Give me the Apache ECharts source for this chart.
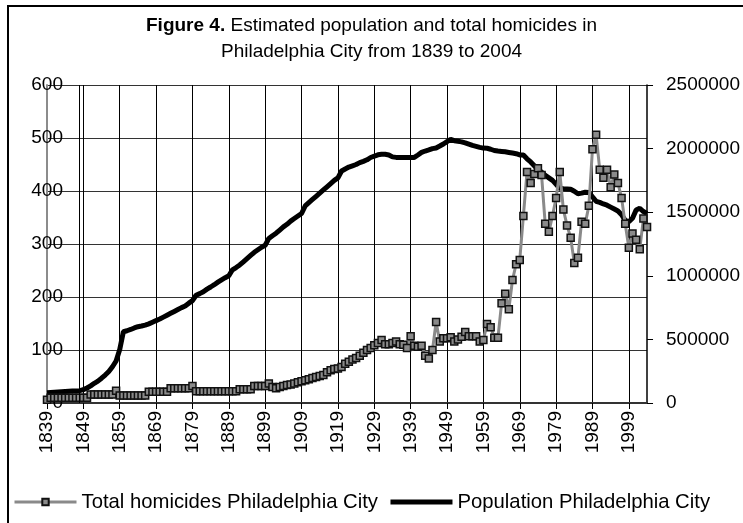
<!DOCTYPE html>
<html>
<head>
<meta charset="utf-8">
<script src="https://cdn.jsdelivr.net/npm/echarts@6/dist/echarts.min.js"></script>
<style>html,body{margin:0;padding:0;background:#fff}#c{width:743px;height:523px}</style>
</head>
<body>
<div id="c"></div>
<script>
const startYear = 1839, endYear = 2004;
const years = [];
for (let y = startYear; y <= endYear; y++) years.push(String(y));

const homicides = [
  6,
  10,10,10,10,10,10,10,10,10,10,
  10,16,16,16,16,16,16,16,23,14,
  14,14,14,14,14,14,14,21,21,21,
  21,21,21,28,28,28,28,28,28,32,
  22,22,22,22,22,22,22,22,22,22,
  22,22,26,26,26,26,32,32,32,32,
  37,30,28,30,32,34,35,37,39,41,
  43,45,47,49,51,53,58,62,64,65,
  68,74,78,82,85,89,95,100,104,109,
  113,119,111,111,113,116,111,110,104,126,
  108,106,108,89,84,100,153,116,122,122,
  124,116,120,125,134,126,126,126,116,119,
  149,143,123,123,188,206,177,232,262,270,
  353,436,415,432,443,430,338,323,353,387,
  436,365,335,312,264,274,342,338,372,479,
  506,440,425,440,407,431,415,387,338,293,
  320,308,290,348,332
];

const population = [
  80000,
  82000,84000,86000,88000,90000,92000,94000,95000,97000,105000,
  118000,135000,155000,172000,195000,220000,248000,285000,330000,420000,
  560000,568000,578000,590000,600000,605000,612000,622000,635000,648000,
  660000,675000,690000,705000,720000,735000,750000,763000,785000,805000,
  847000,860000,875000,895000,912000,930000,950000,968000,985000,1000000,
  1047000,1065000,1085000,1110000,1135000,1160000,1185000,1205000,1225000,1240000,
  1294000,1315000,1335000,1360000,1385000,1405000,1430000,1450000,1470000,1490000,
  1549000,1575000,1600000,1625000,1650000,1675000,1700000,1725000,1750000,1770000,
  1824000,1840000,1855000,1865000,1875000,1890000,1900000,1912000,1930000,1940000,
  1951000,1955000,1955000,1950000,1935000,1931000,1931000,1931000,1931000,1931000,
  1931000,1950000,1970000,1981000,1990000,2000000,2005000,2020000,2036000,2055000,
  2072000,2062000,2058000,2053000,2045000,2035000,2025000,2018000,2010000,2004000,
  2003000,1995000,1985000,1981000,1978000,1975000,1970000,1965000,1960000,1950000,
  1949000,1920000,1895000,1865000,1835000,1815000,1790000,1770000,1750000,1720000,
  1688000,1685000,1683000,1680000,1665000,1645000,1650000,1657000,1655000,1620000,
  1586000,1577000,1565000,1555000,1540000,1525000,1510000,1480000,1436000,1425000,
  1452000,1517000,1531000,1505000,1490000
];

const leftTicks = [0, 100, 200, 300, 400, 500, 600];
const rightTicks = [0, 500000, 1000000, 1500000, 2000000, 2500000];
const titleLine1Bold = 'Figure 4.';
const titleLine1 = ' Estimated population and total homicides in';
const titleLine2 = 'Philadelphia City from 1839 to 2004';
const seriesNames = ['Total homicides Philadelphia City', 'Population Philadelphia City'];

const FONT = '"Liberation Sans", Arial, sans-serif';
const chart = echarts.init(document.getElementById('c'), null, {renderer: 'canvas'});
chart.setOption({
  animation: false,
  backgroundColor: '#fff',
  textStyle: {fontFamily: FONT},
  title: [
    {
      text: '{b|' + titleLine1Bold + '}' + titleLine1,
      left: 'center', top: 11,
      textStyle: {fontFamily: FONT, fontSize: 19, fontWeight: 'normal', color: '#000',
        rich: {b: {fontFamily: FONT, fontSize: 19, fontWeight: 'bold', color: '#000'}}}
    },
    {
      text: titleLine2,
      left: 'center', top: 37,
      textStyle: {fontFamily: FONT, fontSize: 19, fontWeight: 'normal', color: '#000'}
    }
  ],
  graphic: [{
    type: 'rect', shape: {x: 8, y: 6, width: 800, height: 600},
    style: {fill: 'none', stroke: '#000', lineWidth: 2}, silent: true, z: 100
  }],
  legend: {
    left: 8, top: 487,
    itemWidth: 62, itemHeight: 8, itemGap: 10,
    textStyle: {fontFamily: FONT, fontSize: 20.3, color: '#000'},
    data: [
      {name: seriesNames[0], lineStyle: {width: 3, color: '#8a8a8a'}},
      {name: seriesNames[1], itemStyle: {opacity: 0}, lineStyle: {width: 5, color: '#000'}}
    ]
  },
  grid: {left: 47, right: 95, top: 85, bottom: 120, containLabel: false},
  xAxis: {
    type: 'category', data: years, boundaryGap: false,
    axisLine: {lineStyle: {color: '#333', width: 2}},
    axisTick: {interval: 9, length: 6, lineStyle: {color: '#000'}},
    axisLabel: {interval: 9, rotate: 90, fontSize: 19, color: '#000', margin: 8, fontFamily: FONT},
    splitLine: {show: true, interval: 9, lineStyle: {color: '#000', width: 1}}
  },
  yAxis: [
    {
      type: 'value', min: 0, max: 600, interval: 100,
      axisLine: {show: true, lineStyle: {color: '#8c8c8c', width: 2}},
      axisTick: {show: false},
      axisLabel: {fontSize: 19, color: '#000', margin: -16, fontFamily: FONT},
      splitLine: {show: true, lineStyle: {color: '#333', width: 1}}
    },
    {
      type: 'value', min: 0, max: 2500000, interval: 500000,
      axisLine: {show: true, lineStyle: {color: '#000', width: 1.5}},
      axisTick: {show: true, length: 6, lineStyle: {color: '#000'}},
      axisLabel: {fontSize: 19, color: '#000', margin: 19, fontFamily: FONT,
        formatter: function (v) { return String(v); }},
      splitLine: {show: false}
    }
  ],
  series: [
    {
      name: seriesNames[0], type: 'line', yAxisIndex: 0, data: homicides,
      symbol: 'rect', symbolSize: 7, showAllSymbol: true,
      lineStyle: {color: '#8a8a8a', width: 3},
      itemStyle: {color: '#8a8a8a', borderColor: '#111', borderWidth: 1.5},
      z: 3
    },
    {
      name: seriesNames[1], type: 'line', yAxisIndex: 1, data: population,
      symbol: 'none', showSymbol: false,
      lineStyle: {color: '#000', width: 5},
      itemStyle: {color: '#000'},
      markLine: {
        silent: true, symbol: 'none', label: {show: false},
        lineStyle: {color: '#000', width: 1, type: 'solid'},
        data: [{xAxis: '1848'}]
      },
      z: 2
    }
  ]
});
</script>
</body>
</html>
